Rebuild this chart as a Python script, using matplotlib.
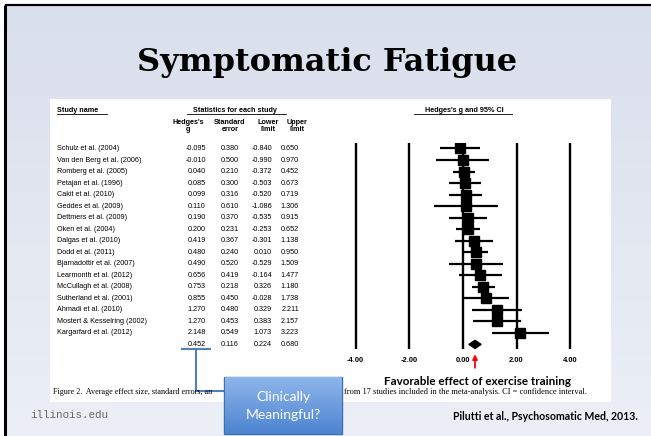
import numpy as np
import matplotlib
matplotlib.use("Agg")
import matplotlib.pyplot as plt
import matplotlib.transforms as mtransforms
from matplotlib.patches import FancyBboxPatch, Rectangle

# data
studies = [
    "Schulz et al. (2004)", "Van den Berg et al. (2006)", "Romberg et al. (2005)",
    "Petajan et al. (1996)", "Cakit et al. (2010)", "Geddes et al. (2009)",
    "Dettmers et al. (2009)", "Oken et al. (2004)", "Dalgas et al. (2010)",
    "Dodd et al. (2011)", "Bjarnadottir et al. (2007)", "Learmonth et al. (2012)",
    "McCullagh et al. (2008)", "Sutherland et al. (2001)", "Ahmadi et al. (2010)",
    "Mostert & Kesselring (2002)", "Kargarfard et al. (2012)",
]
hedges_g = [-0.095, -0.010, 0.040, 0.085, 0.099, 0.110, 0.190, 0.200, 0.419,
            0.480, 0.490, 0.656, 0.753, 0.855, 1.270, 1.270, 2.148]
std_err = [0.380, 0.500, 0.210, 0.300, 0.316, 0.610, 0.370, 0.231, 0.367,
           0.240, 0.520, 0.419, 0.218, 0.450, 0.480, 0.453, 0.549]
lower = [-0.840, -0.990, -0.372, -0.503, -0.520, -1.086, -0.535, -0.253, -0.301,
         0.010, -0.529, -0.164, 0.326, -0.028, 0.329, 0.383, 1.073]
upper = [0.650, 0.970, 0.452, 0.673, 0.719, 1.306, 0.915, 0.652, 1.138,
         0.950, 1.509, 1.477, 1.180, 1.738, 2.211, 2.157, 3.223]
summary = {"g": 0.452, "se": 0.116, "lower": 0.224, "upper": 0.680}
x_ticks = [-4, -2, 0, 2, 4]

W, H = 651, 436
fig = plt.figure(figsize=(W / 100, H / 100), dpi=100)

# slide background in pixel coordinates
bg = fig.add_axes([0, 0, 1, 1])
bg.set_xlim(0, W)
bg.set_ylim(H, 0)
bg.axis("off")
grad = np.linspace(0, 1, 100)[:, None]
top_c = np.array([0.851, 0.875, 0.925])
bot_c = np.array([0.925, 0.937, 0.965])
img = top_c + grad[..., None] * (bot_c - top_c)
bg.imshow(np.repeat(img, 2, axis=1), extent=(5, W, H, 5), aspect="auto", zorder=0)
bg.plot([5, 5], [5, H], color="black", lw=2.2, zorder=3, solid_capstyle="butt")
bg.plot([5, W], [5, 5], color="black", lw=1.6, zorder=3, solid_capstyle="butt")
bg.add_patch(Rectangle((50, 99), 561, 303, facecolor="white", edgecolor="none", zorder=1))

bg.text(327, 63, "Symptomatic Fatigue", ha="center", va="center", fontsize=23,
        fontweight="bold", family="DejaVu Serif", zorder=4)

# forest plot axes
ax = fig.add_axes([342.3 / W, (H - 349) / H, (583.5 - 342.3) / W, (349 - 143.3) / H])
ax.set_xlim(-4.5, 4.5)
n = len(studies)
ax.set_ylim(n + 0.4, -0.45)
ax.patch.set_alpha(0)
for s in ax.spines.values():
    s.set_visible(False)
for t in x_ticks:
    ax.axvline(t, color="black", lw=1.7, zorder=1)
ax.set_yticks([])
ax.set_xticks(x_ticks)
ax.set_xticklabels([f"{t:.2f}" for t in x_ticks], fontsize=5.4, fontweight="bold",
                   family="Liberation Sans")
ax.tick_params(axis="x", length=0, pad=6)

rows = np.arange(n)
ax.hlines(rows, lower, upper, color="black", lw=1.6, zorder=2)
ax.plot(hedges_g, rows, "s", color="black", ms=7, zorder=3)
sg, sl, su = summary["g"], summary["lower"], summary["upper"]
ax.fill([sl, sg, su, sg], [n, n - 0.35, n, n + 0.35], color="black", zorder=3)
ax.annotate("", xy=(sg, -0.012), xycoords=("data", "axes fraction"),
            xytext=(sg, -0.105), textcoords=("data", "axes fraction"),
            arrowprops=dict(arrowstyle="-|>", color="red", lw=1.3, mutation_scale=7))

# table text: x in slide pixels, y in forest rows
tr = mtransforms.blended_transform_factory(bg.transData, ax.transData)
tkw = dict(fontsize=5.2, family="Liberation Sans", va="center", transform=tr, zorder=4)
cols = [(206, hedges_g), (239, std_err), (272, lower), (299, upper)]
for i, name in enumerate(studies):
    bg.text(57, i, name, ha="left", **tkw)
    for xr, vals in cols:
        bg.text(xr, i, f"{vals[i]:.3f}", ha="right", **tkw)
for xr, v in zip([206, 239, 272, 299],
                 [summary["g"], summary["se"], summary["lower"], summary["upper"]]):
    bg.text(xr, n, f"{v:.3f}", ha="right", **tkw)

hkw = dict(fontsize=5.2, family="Liberation Sans", fontweight="bold", zorder=4)
bg.text(57, 110, "Study name", ha="left", va="center", **hkw)
bg.plot([57, 107], [114.5, 114.5], color="black", lw=0.6, zorder=4)
bg.text(235, 110, "Statistics for each study", ha="center", va="center", **hkw)
bg.plot([187, 286], [114.5, 114.5], color="black", lw=0.6, zorder=4)
bg.text(464, 110, "Hedges's g and 95% CI", ha="center", va="center", **hkw)
bg.plot([414, 512], [114.5, 114.5], color="black", lw=0.6, zorder=4)
for xc, lab in [(188, "Hedges's\ng"), (230, "Standard\nerror"),
                (268, "Lower\nlimit"), (297, "Upper\nlimit")]:
    bg.text(xc, 126, lab, ha="center", va="center", linespacing=1.05, **hkw)

# blue bracket from the summary value down to the callout
blue = "#4F81BD"
bg.plot([182, 210], [349, 349], color=blue, lw=1.5, zorder=4)
bg.plot([196, 196, 224], [349, 391, 391], color=blue, lw=1.5, zorder=4)

bg.text(478, 381, "Favorable effect of exercise training", ha="center", va="center",
        fontsize=8.4, fontweight="bold", family="Lato", zorder=4)

# caption, the middle part is hidden behind the callout box
bg.text(53, 392, "Figure 2.  Average effect size, standard errors, an",
        ha="left", va="center", fontsize=5.9, family="Liberation Serif", zorder=4)
bg.text(344, 392, "from 17 studies included in the meta-analysis. CI = confidence interval.",
        ha="left", va="center", fontsize=6.05, family="Liberation Serif", zorder=4)

# callout box
box = FancyBboxPatch((224, 377), 118, 57, boxstyle="square,pad=0",
                     facecolor="#6C9BDC", edgecolor="#3A6FB8", lw=1.0, zorder=5)
bg.add_patch(box)
bgrad = np.linspace(0, 1, 50)[:, None]
c1 = np.array([0.56, 0.71, 0.92])
c2 = np.array([0.30, 0.52, 0.82])
bimg = c1 + bgrad[..., None] * (c2 - c1)
bg.imshow(np.repeat(bimg, 2, axis=1), extent=(224.5, 341.5, 433.5, 377.5),
          aspect="auto", zorder=5.5)
bg.text(283, 406, "Clinically\nMeaningful?", ha="center", va="center", color="white",
        fontsize=10, family="Lato", linespacing=1.55, zorder=6)

bg.text(30, 415, "illinois.edu", ha="left", va="center", fontsize=7.8,
        family="Liberation Mono", color="#666666", zorder=4)
bg.text(638, 416, "Pilutti et al., Psychosomatic Med, 2013.", ha="right", va="center",
        fontsize=7.6, fontweight="bold", family="Lato", zorder=4)

bg.set_xlim(0, W)
bg.set_ylim(H, 0)
fig.savefig("out.png", dpi=100)
